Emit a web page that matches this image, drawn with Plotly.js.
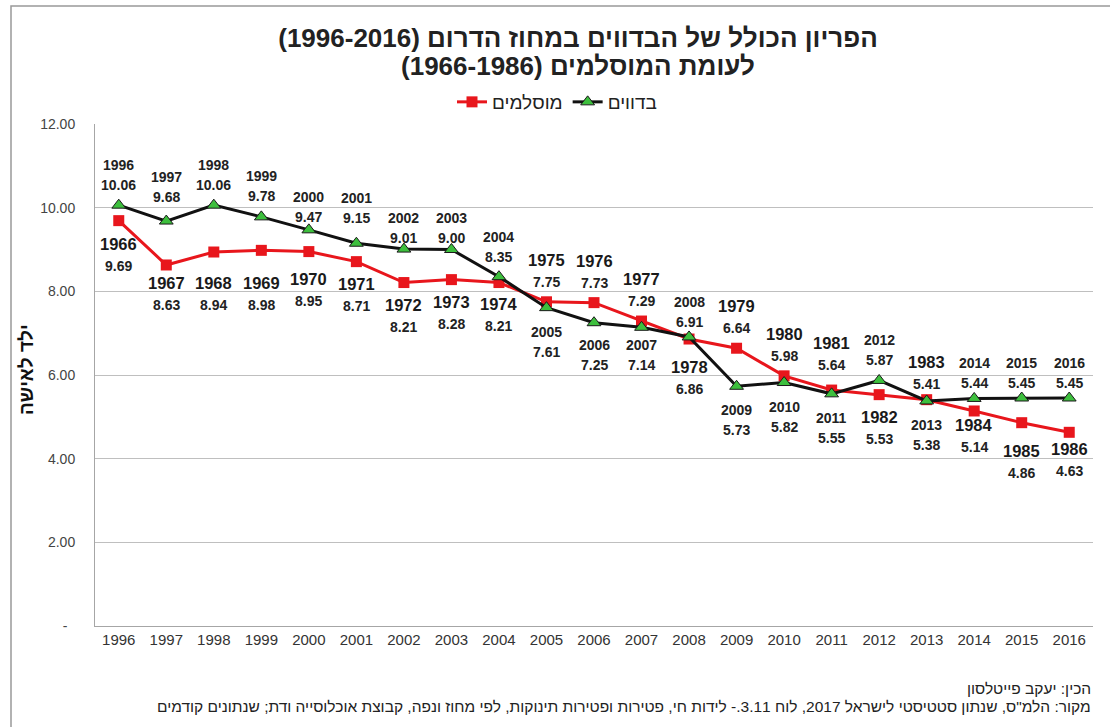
<!DOCTYPE html>
<html><head><meta charset="utf-8">
<script src="https://cdn.plot.ly/plotly-3.0.1.min.js"></script>
<style>html,body{margin:0;padding:0;background:#fff}#chart{width:1110px;height:727px}</style>
</head><body><div id="chart"></div>
<script>
// ---- data ----
const years = ['1996','1997','1998','1999','2000','2001','2002','2003','2004','2005','2006','2007','2008','2009','2010','2011','2012','2013','2014','2015','2016'];
const muslimYears = ['1966','1967','1968','1969','1970','1971','1972','1973','1974','1975','1976','1977','1978','1979','1980','1981','1982','1983','1984','1985','1986'];
const bedouin = [10.06,9.68,10.06,9.78,9.47,9.15,9.01,9.00,8.35,7.61,7.25,7.14,6.91,5.73,5.82,5.55,5.87,5.38,5.44,5.45,5.45];
const muslim = [9.69,8.63,8.94,8.98,8.95,8.71,8.21,8.28,8.21,7.75,7.73,7.29,6.86,6.64,5.98,5.64,5.53,5.41,5.14,4.86,4.63];
const yTickVals = [0,2,4,6,8,10,12];
const yTickText = ['-\u00a0\u00a0','2.00','4.00','6.00','8.00','10.00','12.00'];
const bedouinName = 'בדווים';
const muslimName = 'מוסלמים';
const titleLine1 = 'הפריון הכולל של הבדווים במחוז הדרום (1996-2016)';
const titleLine2 = 'לעומת המוסלמים (1966-1986)';
const yTitle = 'ילד לאישה';
const credit = 'הכין: יעקב פייטלסון';
const source = 'מקור: הלמ"ס, שנתון סטטיסטי לישראל 2017, לוח 3.11.- לידות חי, פטירות ופטירות תינוקות, לפי מחוז ונפה, קבוצת אוכלוסייה ודת; שנתונים קודמים';

// ---- label placement (px offset of label block centre from point; + = below) ----
const bedouinLabelOffset = [-30,-34,-30,-31,-23,-35,-21,-22,-30,34,32,28,-25,34,34,34,-30,34,-25,-25,-25];
const muslimLabelOffset = [34,29,42,44,38,33,33,33,32,-31,-31,-31,39,-31,-31,-36,33,-27,25,39,28];

// ---- layout geometry ----
const W = 1110, H = 727, L = 95, R = 17, T = 124, B = 101;
const plotW = W - L - R, plotH = H - T - B;
const pyPaper = p => (H - B - p) / plotH;
const pxPaper = p => (p - L) / plotW;
const RLE = '\u202B', PDF = '\u202C';
const rtl = s => RLE + s + PDF;
const FONT = 'Liberation Sans, Arial, sans-serif';

const traces = [
  {x: years, y: muslim, name: rtl(muslimName), type: 'scatter', mode: 'lines+markers',
   line: {color: '#e8161c', width: 3}, marker: {symbol: 'square', size: 11, color: '#e8161c'}},
  {x: years, y: bedouin, name: rtl(bedouinName), type: 'scatter', mode: 'lines+markers',
   line: {color: '#111111', width: 3}, marker: {symbol: 'triangle-up', size: 12, color: '#3dbf3d', line: {color: '#1a1a1a', width: 1}}}
];

const annotations = [];
years.forEach((yr, i) => {
  const ob = bedouinLabelOffset[i];
  annotations.push({x: i, y: bedouin[i], xref: 'x', yref: 'y', text: '<b>' + yr + '</b>', showarrow: false,
    yanchor: 'middle', xanchor: 'center', yshift: 10 - ob, font: {family: FONT, size: 14, color: '#222'}});
  annotations.push({x: i, y: bedouin[i], xref: 'x', yref: 'y', text: '<b>' + bedouin[i].toFixed(2) + '</b>', showarrow: false,
    yanchor: 'middle', xanchor: 'center', yshift: -10 - ob, font: {family: FONT, size: 14, color: '#222'}});
  const om = muslimLabelOffset[i];
  annotations.push({x: i, y: muslim[i], xref: 'x', yref: 'y', text: '<b>' + muslimYears[i] + '</b>', showarrow: false,
    yanchor: 'middle', xanchor: 'center', yshift: 11 - om, font: {family: FONT, size: 16.5, color: '#1a1a1a'}});
  annotations.push({x: i, y: muslim[i], xref: 'x', yref: 'y', text: '<b>' + muslim[i].toFixed(2) + '</b>', showarrow: false,
    yanchor: 'middle', xanchor: 'center', yshift: -11 - om, font: {family: FONT, size: 14, color: '#222'}});
});
annotations.push({xref: 'paper', yref: 'paper', x: pxPaper(26), y: pyPaper(370), text: '<b>' + rtl(yTitle) + '</b>', textangle: -90,
  showarrow: false, xanchor: 'center', yanchor: 'middle', font: {family: FONT, size: 19, color: '#111'}});
annotations.push({xref: 'paper', yref: 'paper', x: pxPaper(578), y: pyPaper(66), text: '<b>' + rtl(titleLine2) + '</b>',
  showarrow: false, xanchor: 'center', yanchor: 'middle', font: {family: FONT, size: 26, color: '#222'}});
annotations.push({xref: 'paper', yref: 'paper', x: pxPaper(1093), y: pyPaper(688), text: rtl(credit),
  showarrow: false, xanchor: 'right', yanchor: 'middle', font: {family: FONT, size: 15.5, color: '#222'}});
annotations.push({xref: 'paper', yref: 'paper', x: pxPaper(1093), y: pyPaper(706), text: rtl(source),
  showarrow: false, xanchor: 'right', yanchor: 'middle', font: {family: FONT, size: 15.5, color: '#222'}});

const layout = {
  width: W, height: H,
  margin: {l: L, r: R, t: T, b: B, pad: 0},
  paper_bgcolor: '#ffffff', plot_bgcolor: '#ffffff',
  font: {family: FONT, color: '#333'},
  title: {text: '<b>' + rtl(titleLine1) + '</b>', x: 578 / W, xanchor: 'center',
    y: 1 - 38 / H, yanchor: 'middle', yref: 'container', font: {family: FONT, size: 26, color: '#222'}},
  showlegend: true,
  legend: {orientation: 'h', x: pxPaper(452), xanchor: 'left', y: pyPaper(102), yanchor: 'middle',
    font: {family: FONT, size: 19, color: '#222'}, bgcolor: 'rgba(0,0,0,0)', itemwidth: 30},
  xaxis: {type: 'category', range: [-0.5, 20.5], autorange: false, showgrid: false, showline: true, linecolor: '#a6a6a6', linewidth: 1, ticks: '',
    tickfont: {family: FONT, size: 15, color: '#333'}, fixedrange: true},
  yaxis: {range: [0, 12], autorange: false, tickvals: yTickVals, ticktext: yTickText, showgrid: true, gridcolor: '#bfbfbf', gridwidth: 1,
    showline: true, linecolor: '#a6a6a6', linewidth: 1, zeroline: false, ticks: '', ticklabelstandoff: 16,
    tickfont: {family: FONT, size: 14, color: '#444'}, fixedrange: true},
  shapes: [{type: 'rect', xref: 'paper', yref: 'paper', x0: pxPaper(11), x1: pxPaper(1130), y0: pyPaper(760), y1: pyPaper(6),
    line: {color: '#999999', width: 1.5}, fillcolor: 'rgba(0,0,0,0)', layer: 'below'}],
  annotations: annotations
};

Plotly.newPlot('chart', traces, layout, {staticPlot: true, displayModeBar: false});
</script>
</body></html>
